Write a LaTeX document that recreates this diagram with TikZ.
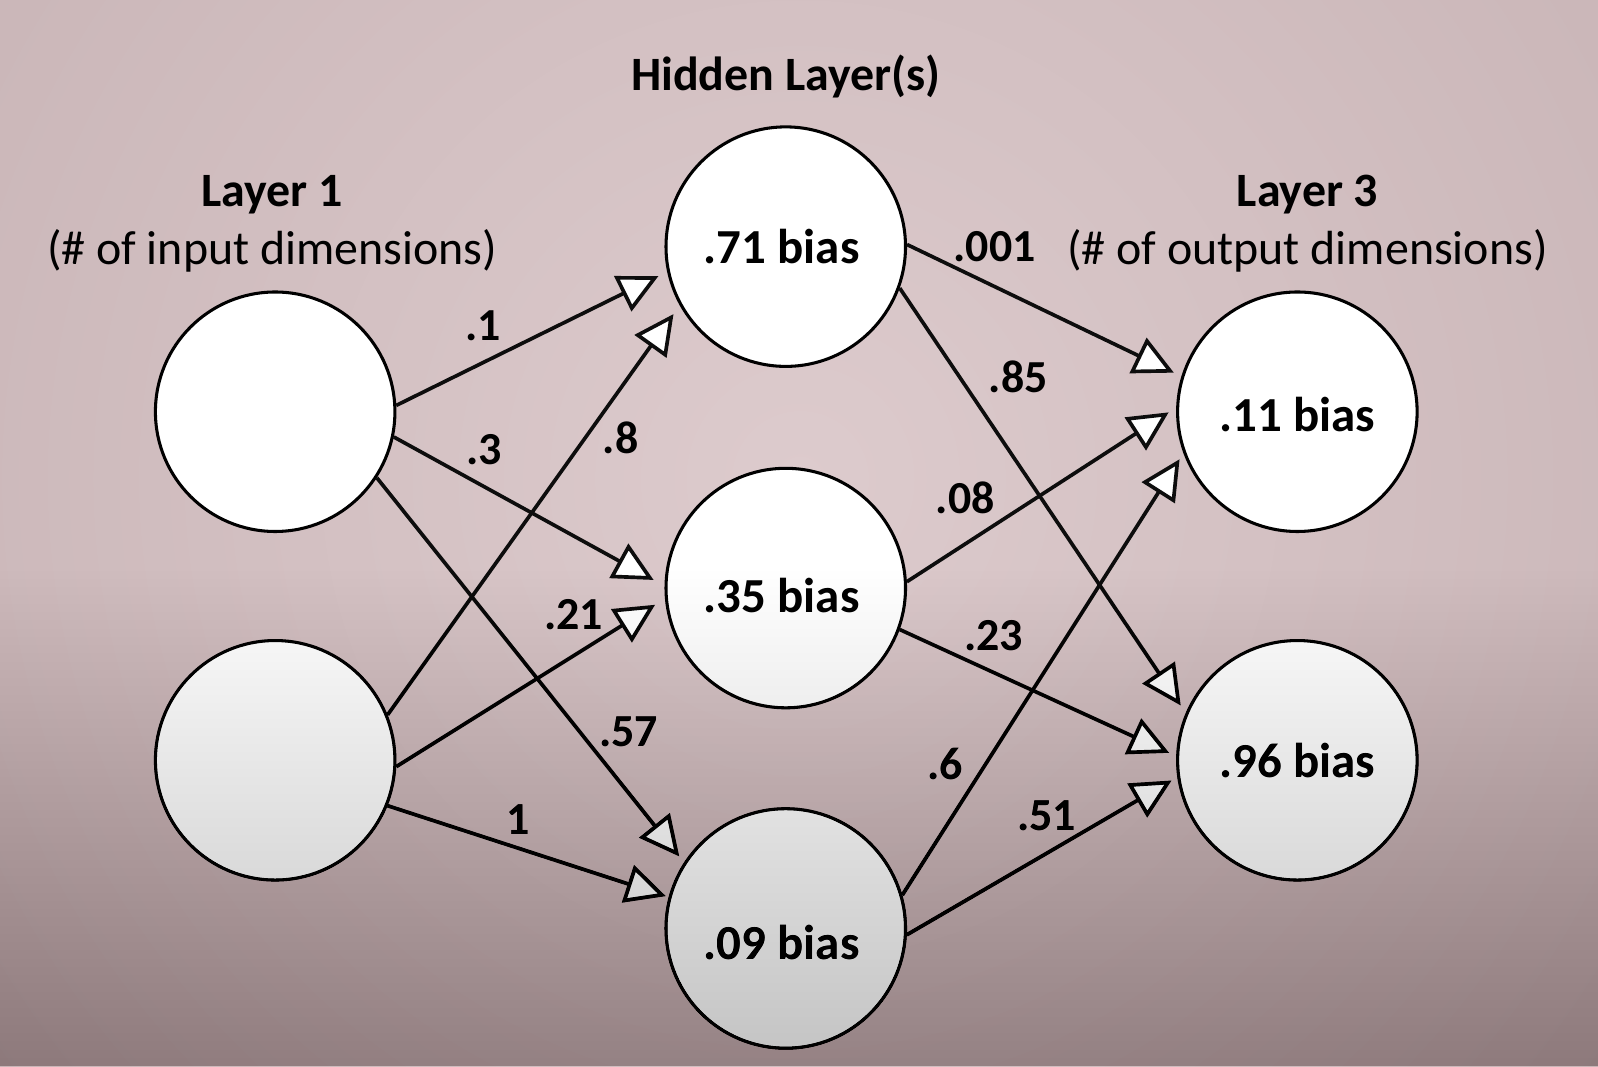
\documentclass[tikz,border=0pt]{standalone}
\usepackage{fontspec}
\setmainfont{Carlito}
\usetikzlibrary{arrows.meta}
\definecolor{bgA}{HTML}{DDCBCD}
\definecolor{bgB}{HTML}{CAB6B8}
\definecolor{bgC}{HTML}{B3A3A5}
\definecolor{bgD}{HTML}{AA9A9C}
\pgfdeclareradialshading{bgshade}{\pgfpoint{0bp}{0bp}}{color(0bp)=(bgA); color(23.5bp)=(bgB); color(45.7bp)=(bgC); color(50bp)=(bgD)}
\tikzset{
  neuron/.style={circle, draw=black, line width=1.5pt, fill=white, minimum size=117.5pt, inner sep=0pt},
  btext/.style={font=\fontsize{24}{28}\selectfont\bfseries, inner sep=0pt},
  conn/.style={line width=1.8pt, draw=black!95, -{Triangle[length=19.5pt, width=19pt, fill=white]}},
  title/.style={font=\fontsize{23.5}{28}\selectfont\bfseries, anchor=base, inner sep=0pt},
  subtitle/.style={font=\fontsize{23.5}{28}\selectfont, anchor=base, inner sep=0pt},
  weight/.style={font=\fontsize{22.5}{27}\selectfont\bfseries, inner sep=0pt},
}
\begin{document}
\begin{tikzpicture}[x=0.5pt, y=-0.5pt]
\useasboundingbox (0,0) rectangle (1568,1046);
% background
\begin{scope}
  \clip (0,0) rectangle (1568,1046);
  \shade[shading=bgshade] (785,470) circle (1000);
\end{scope}
% neurons
\node[neuron] (in1) at (270,404) {};
\node[neuron] (in2) at (270,746) {};
\node[neuron, label={[btext, xshift=-2pt]center:.71 bias}] (h1) at (771,242) {};
\node[neuron, label={[btext, xshift=-2pt, yshift=-3.5pt]center:.35 bias}] (h2) at (771,577) {};
\node[neuron, label={[btext, xshift=-2pt, yshift=-6.75pt]center:.09 bias}] (h3) at (771,911) {};
\node[neuron, label={[btext, yshift=-1.5pt]center:.11 bias}] (o1) at (1273,404) {};
\node[neuron, label={[btext]center:.96 bias}] (o2) at (1273,746) {};
% connectors
\draw[conn, shorten >=4.8pt] (in1.3.7) -- (h1.192.6);
\draw[conn, shorten >=6.1pt] (in1.-12.5) -- (h2.179);
\draw[conn, shorten >=3.8pt] (in1.-33.9) -- (h3.147.2);
\draw[conn, shorten >=5.2pt] (in2.22.1) -- (h1.209);
\draw[conn, shorten >=5.7pt] (in2.-3.8) -- (h2.185.2);
\draw[conn, shorten >=1.5pt] (in2.-22.6) -- (h3.165.9);
\draw[conn, shorten >=4.1pt] (h1.1) -- (o1.163.1);
\draw[conn, shorten >=4.4pt] (h1.-20) -- (o2.157.4);
\draw[conn, shorten >=4.4pt] (h2.3) -- (o1.178.8);
\draw[conn, shorten >=3.8pt] (h2.-20) -- (o2.178.6);
\draw[conn, shorten >=3.5pt] (h3.16) -- (o1.200.7);
\draw[conn, shorten >=3.25pt] (h3.-3) -- (o2.188.7);
% titles
\node[title] (hidtitle) at (771,89) {Hidden Layer(s)};
\node[title] (l1title) at (267,203) {Layer 1};
\node[subtitle] (l1sub) at (267,260) {(\# of input dimensions)};
\node[title] (l3title) at (1283,203) {Layer 3};
\node[subtitle] (l3sub) at (1283,260) {(\# of output dimensions)};
% weights
\node[weight] (w1) at (474,320) {.1};
\node[weight] (w2) at (475,441) {.3};
\node[weight] (w3) at (609,430) {.8};
\node[weight] (w4) at (563,603) {.21};
\node[weight] (w5) at (617,718) {.57};
\node[weight] (w6) at (508,804) {1};
\node[weight] (w7) at (976,242) {.001};
\node[weight] (w8) at (999,370) {.85};
\node[weight] (w9) at (947,488) {.08};
\node[weight] (w10) at (975,624) {.23};
\node[weight] (w11) at (927,750) {.6};
\node[weight] (w12) at (1027,800) {.51};
% darkening toward the bottom (stacked translucent bands)
\foreach \k in {1,...,60}{
  \pgfmathsetmacro\op{1-(1-0.004*\k)/(1-0.004*(\k-1))}
  \pgfmathsetmacro\ytop{560+(\k-1)*8.1}
  \fill[black, fill opacity=\op] (0,\ytop) rectangle (1568,1046);
}
\end{tikzpicture}
\end{document}
